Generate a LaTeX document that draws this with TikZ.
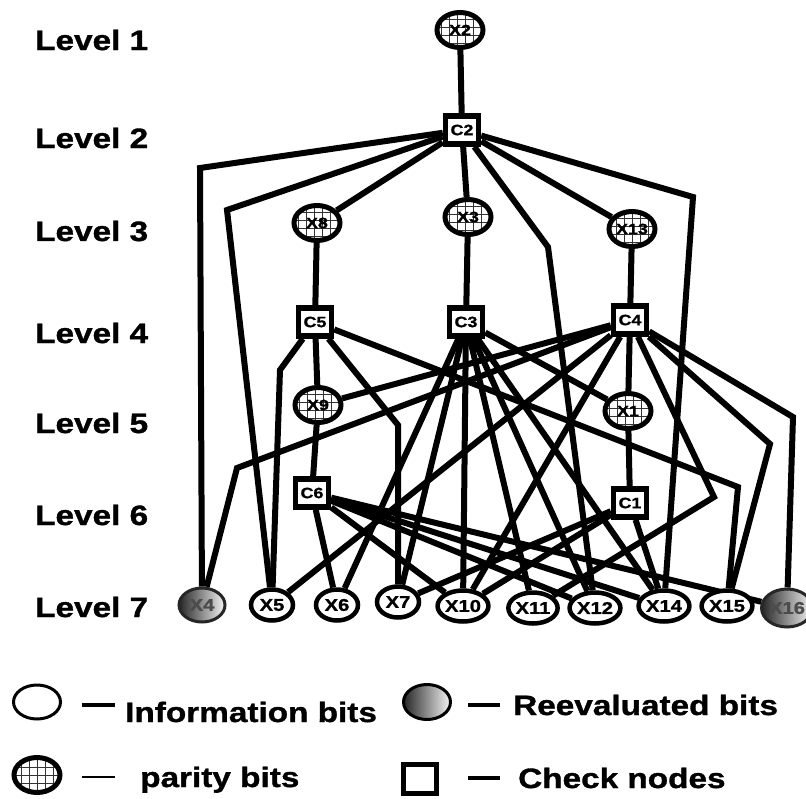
\documentclass[tikz,border=0pt]{standalone}
\usepackage{fontspec}
\setmainfont{Liberation Sans}[FakeStretch=1.19, BoldFeatures={FakeBold=1.2}]
\usetikzlibrary{shapes.geometric}
\pgfdeclarelayer{bg}
\pgfsetlayers{bg,main}
\tikzset{
  wire/.style={line width=6pt, black},
  chk/.style={draw, rectangle, line width=5.5pt, fill=white, minimum width=33pt,
    minimum height=28pt, inner sep=0pt, font=\fontsize{15}{15}\selectfont\bfseries},
  par/.style={draw, ellipse, line width=5pt, fill=white, minimum width=46pt,
    minimum height=35pt, inner sep=0pt, font=\fontsize{15}{15}\selectfont\bfseries,
    path picture={\draw[line width=1pt, black!80, step=8pt]
      ([shift={(-30pt,-30pt)}]path picture bounding box.center) grid
      ([shift={(30pt,30pt)}]path picture bounding box.center);}},
  info/.style={draw, ellipse, line width=4.5pt, fill=white, minimum width=42pt,
    minimum height=31pt, inner sep=0pt, font=\fontsize{17}{17}\selectfont\bfseries},
  reev/.style={draw=black!85, ellipse, line width=3pt, minimum width=46pt,
    minimum height=34pt, inner sep=0pt, left color=black!85, middle color=black!25,
    right color=black!4, text=black!70, font=\fontsize{17}{17}\selectfont\bfseries},
  lvl/.style={anchor=west, inner sep=0pt, font=\fontsize{28}{28}\selectfont\bfseries},
  leg/.style={anchor=base west, inner sep=0pt, font=\fontsize{28}{28}\selectfont\bfseries},
  dashmark/.style={line width=4pt},
}
\begin{document}
\begin{tikzpicture}[x=1pt, y=-1pt]
\useasboundingbox (0,0) rectangle (806,798);

% level captions
\node[lvl] (L1) at (35,40)  {Level 1};
\node[lvl] (L2) at (35,138) {Level 2};
\node[lvl] (L3) at (35,231) {Level 3};
\node[lvl] (L4) at (35,333) {Level 4};
\node[lvl] (L5) at (35,423) {Level 5};
\node[lvl] (L6) at (35,515) {Level 6};
\node[lvl] (L7) at (35,607) {Level 7};

% parity and check nodes of the tree
\node[par] (X2)  at (460,30)  {X2};
\node[chk] (C2)  at (462,130) {C2};
\node[par] (X8)  at (317,223) {X8};
\node[par] (X3)  at (468,217) {X3};
\node[par] (X13) at (632,229) {X13};
\node[chk] (C5)  at (315,322) {C5};
\node[chk] (C3)  at (466,322) {C3};
\node[chk] (C4)  at (630,320) {C4};
\node[par] (X9)  at (318,405) {X9};
\node[par] (X1)  at (628,411) {X1};
\node[chk] (C6)  at (312,493) {C6};
\node[chk] (C1)  at (630,503) {C1};

% information bits on the bottom level
\node[reev] (X4)  at (202,605) {X4};
\node[info] (X5)  at (272,605) {X5};
\node[info] (X6)  at (337,605) {X6};
\node[info] (X7)  at (398,602) {X7};
\node[info] (X10) at (463,606) {X10};
\node[info] (X11) at (533,608) {X11};
\node[info] (X12) at (595,608) {X12};
\node[info] (X14) at (664,606) {X14};
\node[info] (X15) at (727,606) {X15};
\node[reev, minimum width=42pt, minimum height=38pt] (X16) at (787,608) {X16};

% bend points of the routed connectors
\coordinate (k1) at (200,168);
\coordinate (k2) at (227,210);
\coordinate (k3) at (548,247);
\coordinate (k4) at (693,197);
\coordinate (k5) at (280,370);
\coordinate (k6) at (398,425);
\coordinate (k7) at (738,487);
\coordinate (k8) at (237,468);
\coordinate (k9) at (714,497);
\coordinate (k10) at (770,444);
\coordinate (k11) at (793,417);

\begin{pgfonlayer}{bg}
  % C2
  \draw[wire] (C2) -- (X2);
  \draw[wire] (C2) -- (X8);
  \draw[wire] (C2) -- (X3);
  \draw[wire] (C2) -- (X13);
  \draw[wire] (C2) -- (k1) -- (X4);
  \draw[wire] (C2) -- (k2) -- (X5);
  \draw[wire] (C2) -- (k3) -- (X12);
  \draw[wire] (C2) -- (k4) -- (X14);
  % C5
  \draw[wire] (C5) -- (X8);
  \draw[wire] (C5) -- (X9);
  \draw[wire] (C5) -- (k5) -- (X5);
  \draw[wire] (C5) -- (k6) -- (X7);
  \draw[wire] (C5) -- (k7) -- (X15);
  % C3
  \draw[wire] (C3) -- (X3);
  \draw[wire] (C3) -- (X1);
  \draw[wire] (C3) -- (X6);
  \draw[wire] (C3) -- (X7);
  \draw[wire] (C3) -- (X10);
  \draw[wire] (C3) -- (X11);
  \draw[wire] (C3) -- (X12);
  \draw[wire] (C3) -- (X14);
  % C4
  \draw[wire] (C4) -- (X13);
  \draw[wire] (C4) -- (X1);
  \draw[wire] (C4) -- (X9);
  \draw[wire] (C4) -- (X5);
  \draw[wire] (C4) -- (X10);
  \draw[wire] (C4) -- (k8) -- (X4);
  \draw[wire] (C4) -- (k9) -- (X11);
  \draw[wire] (C4) -- (k10) -- (X15);
  \draw[wire] (C4) -- (k11) -- (X16);
  % C6
  \draw[wire] (C6) -- (X9);
  \draw[wire] (C6) -- (X6);
  \draw[wire] (C6) -- (X10);
  \draw[wire] (C6) -- (X12);
  \draw[wire] (C6) -- (X14);
  \draw[wire] (C6) -- (X16);
  % C1
  \draw[wire] (C1) -- (X1);
  \draw[wire] (C1) -- (X14);
  \draw[wire] (C1) -- (X10);
  \draw[wire] (C1) -- (X7);
\end{pgfonlayer}

% legend
\node[info, line width=3pt, minimum width=47pt, minimum height=34pt] (gInfo) at (37,702) {};
\coordinate (gInfoA) at (82,705); \coordinate (gInfoB) at (115,705);
\draw[dashmark] (gInfoA) -- (gInfoB);
\node[leg] (tInfo) at (125,722) {Information bits};

\node[reev, draw=black, line width=3pt, minimum width=47pt, minimum height=35pt] (gReev) at (427,702) {};
\coordinate (gReevA) at (468,705); \coordinate (gReevB) at (500,705);
\draw[dashmark] (gReevA) -- (gReevB);
\node[leg] (tReev) at (513,715) {Reevaluated bits};

\node[par, minimum width=46pt, minimum height=35pt] (gPar) at (37,775) {};
\coordinate (gParA) at (82,777); \coordinate (gParB) at (115,777);
\draw[dashmark, line width=2.5pt] (gParA) -- (gParB);
\node[leg] (tPar) at (140,787) {parity bits};

\node[chk, minimum width=33pt, minimum height=29pt] (gChk) at (420,779) {};
\coordinate (gChkA) at (468,778); \coordinate (gChkB) at (500,778);
\draw[dashmark] (gChkA) -- (gChkB);
\node[leg] (tChk) at (518,788) {Check nodes};
\end{tikzpicture}
\end{document}
